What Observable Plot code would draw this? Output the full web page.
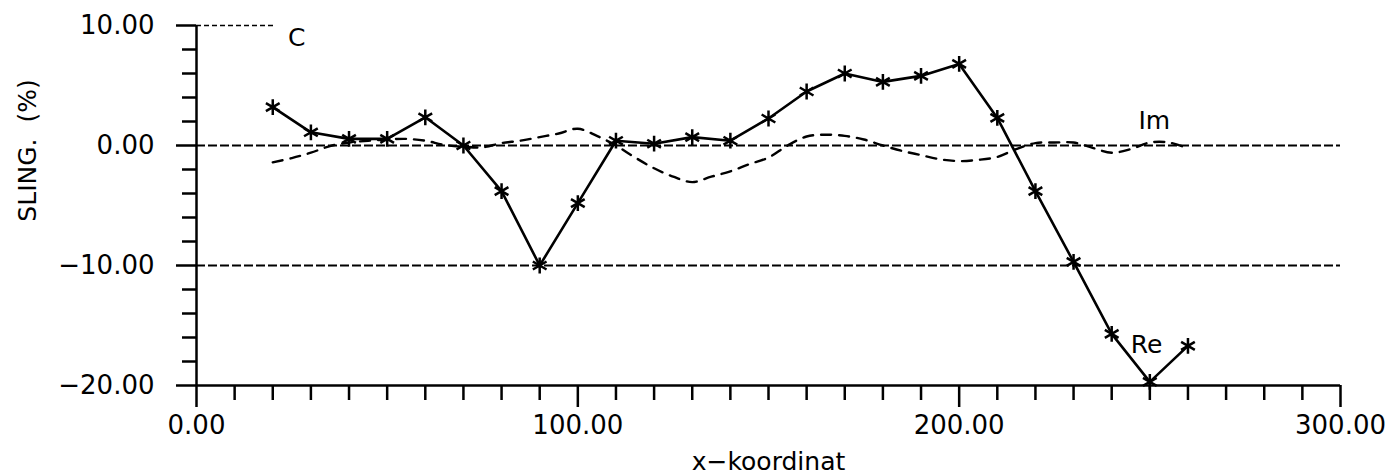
<!DOCTYPE html>
<html><head><meta charset="utf-8">
<script src="https://cdn.jsdelivr.net/npm/d3@7"></script>
<script src="https://cdn.jsdelivr.net/npm/@observablehq/plot@0.6"></script>
<style>body{margin:0;background:#fff}</style>
</head><body><div id="chart"></div>
<script>
// Re series (solid with asterisks)
const reX = [20,30,40,50,60,70,80,90,100,110,120,130,140,150,160,170,180,190,200,210,220,230,240,250,260];
const reY = [3.2,1.1,0.55,0.55,2.35,0,-3.8,-10,-4.8,0.4,0.15,0.7,0.4,2.25,4.5,6.0,5.3,5.8,6.8,2.3,-3.8,-9.7,-15.7,-19.7,-16.7];
// Im series (dashed)
const imX = [20,25,30,35,40,45,50,55,60,65,70,75,80,85,90,95,100,105,110,115,120,125,130,135,140,145,150,155,160,165,170,175,180,185,190,195,200,205,210,215,220,225,230,235,240,245,250,255,260];
const imY = [-1.4,-1.05,-0.6,-0.05,0.25,0.4,0.5,0.55,0.4,0.05,-0.1,-0.15,0.2,0.4,0.7,1.0,1.4,0.8,0,-1.0,-1.9,-2.6,-3.05,-2.6,-2.15,-1.55,-1.0,0,0.75,0.9,0.8,0.5,0,-0.45,-0.8,-1.15,-1.3,-1.2,-0.95,-0.3,0.2,0.25,0.25,-0.2,-0.6,-0.3,0.25,0.25,-0.25];
// ticks
const xMajor = [0,100,200,300];
const xMinor = d3.range(0,301,10).filter(v => v % 100 !== 0);
const yMajor = [-20,-10,0,10];
const yMinor = d3.range(-20,11,2).filter(v => v % 10 !== 0);
// reference lines
const refLines = [0,-10];
const topLine = [10];
const topLineEnd = 20.5;
// annotation labels
const labelText = ["C","Im","Re"];
const labelX = [24,247,245];
const labelY = [8.3,1.4,-17.3];
const xTitle = "x\u2212koordinat";
const yTitle = "SLING.  (%)";

const re = reX.map((x,i) => ({x, y: reY[i]}));
const im = imX.map((x,i) => ({x, y: imY[i]}));
const labels = labelText.map((t,i) => ({t, x: labelX[i], y: labelY[i]}));
const fmt = d3.format(".2f");

const chart = Plot.plot({
  width: 1399, height: 476,
  marginLeft: 196, marginRight: 59, marginTop: 25, marginBottom: 91,
  x: {domain: [0,300]},
  y: {domain: [-20,10]},
  style: {fontFamily: "'DejaVu Sans', sans-serif", fontSize: "26px", color: "black", background: "white"},
  marks: [
    Plot.ruleY(refLines, {x1: 0, x2: 300, stroke: "black", strokeWidth: 1.8, strokeDasharray: "9,3"}),
    Plot.ruleY(topLine, {x1: 0, x2: topLineEnd, stroke: "black", strokeWidth: 1.5, strokeDasharray: "5,3"}),
    Plot.axisY({ticks: yMajor, tickSize: 20, tickPadding: 22, tickFormat: fmt, strokeWidth: 2.5, fontSize: 26, label: null}),
    Plot.axisY({ticks: yMinor, tickSize: 14, tickFormat: () => "", strokeWidth: 2.5, label: null}),
    Plot.axisX({ticks: xMajor, tickSize: 22, tickPadding: 8, tickFormat: fmt, strokeWidth: 2.5, fontSize: 26, label: null}),
    Plot.axisX({ticks: xMinor, tickSize: 15, tickFormat: () => "", strokeWidth: 2.5, label: null}),
    Plot.ruleX([0], {y1: -20, y2: 10, stroke: "black", strokeWidth: 2.5}),
    Plot.ruleY([-20], {x1: 0, x2: 300, stroke: "black", strokeWidth: 2.5}),
    Plot.line(im, {x: "x", y: "y", curve: "catmull-rom", stroke: "black", strokeWidth: 2.4, strokeDasharray: "10,8"}),
    Plot.line(re, {x: "x", y: "y", stroke: "black", strokeWidth: 2.6}),
    Plot.dot(re, {x: "x", y: "y", symbol: "asterisk", r: 7.5, stroke: "black", strokeWidth: 2.5}),
    Plot.text(labels, {x: "x", y: "y", text: "t", textAnchor: "start", lineAnchor: "bottom", fontSize: 25, fill: "black"}),
    Plot.text([xTitle], {frameAnchor: "bottom", dy: 84, lineAnchor: "bottom", textAnchor: "middle", fontSize: 25, fill: "black"}),
    Plot.text([yTitle], {frameAnchor: "left", rotate: -90, dx: -169, dy: -55, textAnchor: "middle", fontSize: 25, fill: "black"})
  ]
});
document.getElementById("chart").appendChild(chart);
</script>
</body></html>
